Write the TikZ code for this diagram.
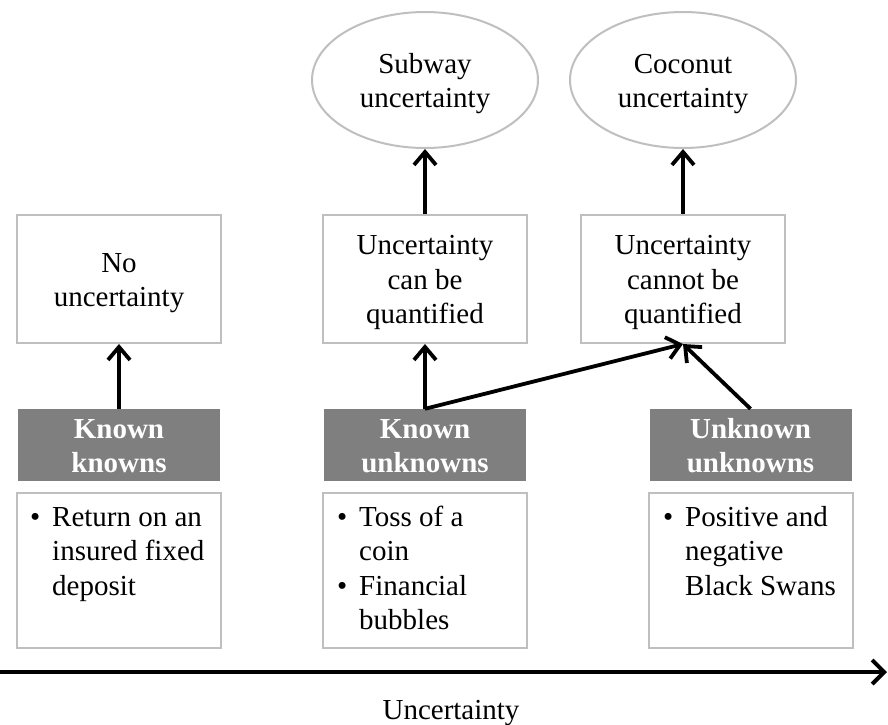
\documentclass[tikz,border=0pt]{standalone}
\usepackage{fontspec}
\setmainfont{Liberation Serif}
\usetikzlibrary{shapes.geometric,arrows.meta}
\definecolor{edgegray}{HTML}{BFBFBF}
\definecolor{bandgray}{HTML}{7F7F7F}
% centred lines, lowered slightly without changing the box extent
\newcommand{\stacklines}[1]{\raisebox{-3.5pt}[\height][\depth]{%
  \begin{tabular}{@{}c@{}}#1\end{tabular}}}
\begin{document}
\begin{tikzpicture}[x=1pt,y=-1pt,
  every node/.style={font=\fontsize{29}{34.5}\selectfont},
  plainbox/.style={draw=edgegray,line width=2pt,fill=white,
    minimum width=204pt,minimum height=128pt,inner sep=0pt},
  oval/.style={ellipse,draw=edgegray,line width=2pt,fill=white,
    minimum width=226pt,minimum height=136pt,inner sep=0pt},
  band/.style={fill=bandgray,text=white,
    font=\fontsize{29}{34.5}\selectfont\bfseries,
    minimum width=202pt,minimum height=72pt,inner sep=0pt},
  listbox/.style={draw=edgegray,line width=2pt,fill=white,
    minimum width=204pt,minimum height=155pt,inner sep=0pt},
  listtext/.style={anchor=north west,inner sep=0pt,align=left,
    font=\fontsize{29}{34.5}\selectfont},
  link/.style={line width=3.8pt,-{Straight Barb[length=13pt,width=22pt]}},
  axis/.style={line width=4pt,-{Straight Barb[length=12pt,width=24pt]}}]
\useasboundingbox (0,0) rectangle (888,724);

% outcomes at the top
\node[oval] (sub) at (425,80) {\stacklines{Subway\\uncertainty}};
\node[oval] (coc) at (683,80) {\stacklines{Coconut\\uncertainty}};

% whether the uncertainty can be measured
\node[plainbox] (nou) at (119,279) {\stacklines{No\\uncertainty}};
\node[plainbox] (cb)  at (425,279) {\stacklines{Uncertainty\\can be\\quantified}};
\node[plainbox] (cq)  at (683,279) {\stacklines{Uncertainty\\cannot be\\quantified}};

% the three categories
\node[band] (kk) at (119,445) {\stacklines{Known\\knowns}};
\node[band] (ku) at (425,445) {\stacklines{Known\\unknowns}};
\node[band] (uu) at (750.5,445) {\stacklines{Unknown\\unknowns}};

% examples below each category
\node[listbox] (kkl) at (119,570.5) {};
\node[listbox] (kul) at (425,570.5) {};
\node[listbox] (uul) at (751,570.5) {};

\node[listtext] (kkt) at ([shift={(14pt,-10pt)}]kkl.north west)
  {\begin{tabular}{@{}p{22pt}@{}l@{}}
   \textbullet & Return on an\\ & insured fixed\\ & deposit\end{tabular}};
\node[listtext] (kut) at ([shift={(15pt,-10pt)}]kul.north west)
  {\begin{tabular}{@{}p{22pt}@{}l@{}}
   \textbullet & Toss of a\\ & coin\\
   \textbullet & Financial\\ & bubbles\end{tabular}};
\node[listtext] (uut) at ([shift={(15pt,-10pt)}]uul.north west)
  {\begin{tabular}{@{}p{22pt}@{}l@{}}
   \textbullet & Positive and\\ & negative\\ & Black Swans\end{tabular}};

% connectors
\draw[link] (kk.north) -- (nou.south);
\draw[link] (cb.north) -- (sub.south);
\draw[link] (cq.north) -- (coc.south);
\draw[link] (ku.north) -- (cb.south);
\draw[link] (ku.north) -- (cq.south);
\draw[link] (uu.north) -- (cq.south);

% uncertainty axis
\coordinate (axl) at (0,672);
\coordinate (axr) at (887,672);
\draw[axis] (axl) -- (axr);
\node[anchor=base] (axlabel) at (451,719) {Uncertainty};
\end{tikzpicture}
\end{document}
